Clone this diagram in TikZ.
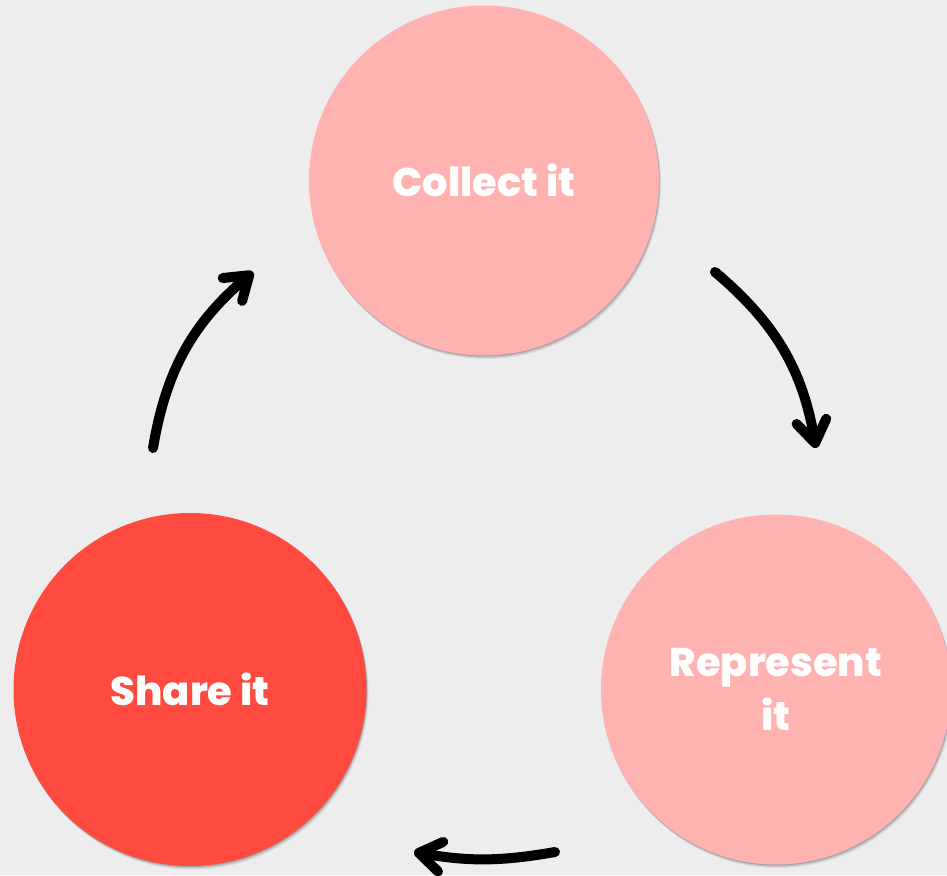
\documentclass[tikz,border=0pt]{standalone}
\usepackage{fontspec}
\newfontfamily\popfont{Poppins ExtraBold}
\usetikzlibrary{arrows.meta,shadows}
\definecolor{bgc}{HTML}{EDEDED}
\definecolor{pinkc}{HTML}{FFB3B0}
\definecolor{redc}{HTML}{FF4A3F}
\tikzset{
  softshadow/.style={
    drop shadow={shadow xshift=2pt, shadow yshift=-3.5pt, fill=black, opacity=0.08},
    drop shadow={shadow xshift=1.2pt, shadow yshift=-2.2pt, fill=black, opacity=0.12},
    drop shadow={shadow xshift=0.5pt, shadow yshift=-1pt, fill=black, opacity=0.15}},
  stepcircle/.style={circle, minimum size=350pt, inner sep=0pt, text=white,
    font=\popfont\fontsize{40}{54}\selectfont, align=center, softshadow},
  cyclearrow/.style={line width=10pt, line cap=round, line join=round,
    -{Straight Barb[length=22pt,width=30pt,round]}}
}
\begin{document}
\begin{tikzpicture}[x=1pt,y=1pt]
\fill[bgc] (0,0) rectangle (947,875);
\useasboundingbox (0,0) rectangle (947,875);
\clip (0,0) rectangle (947,875);
\node[stepcircle, fill=pinkc] (collect) at (484,694.5) {Collect it};
\node[stepcircle, fill=pinkc] (represent) at (776,185.5) {Represent\\it};
\node[stepcircle, fill=redc, minimum size=353pt] (share) at (190,185.5) {Share it};
\coordinate (a1s) at (715,603);
\coordinate (a1e) at (816,427);
\coordinate (a2s) at (153,427);
\coordinate (a2e) at (253,603);
\coordinate (a3s) at (555,23);
\coordinate (a3e) at (414,23);
\draw[cyclearrow] (a1s) to[bend left=20] (a1e);
\draw[cyclearrow] (a2s) to[bend left=20] (a2e);
\draw[cyclearrow] (a3s) to[bend left=10] (a3e);
\end{tikzpicture}
\end{document}
